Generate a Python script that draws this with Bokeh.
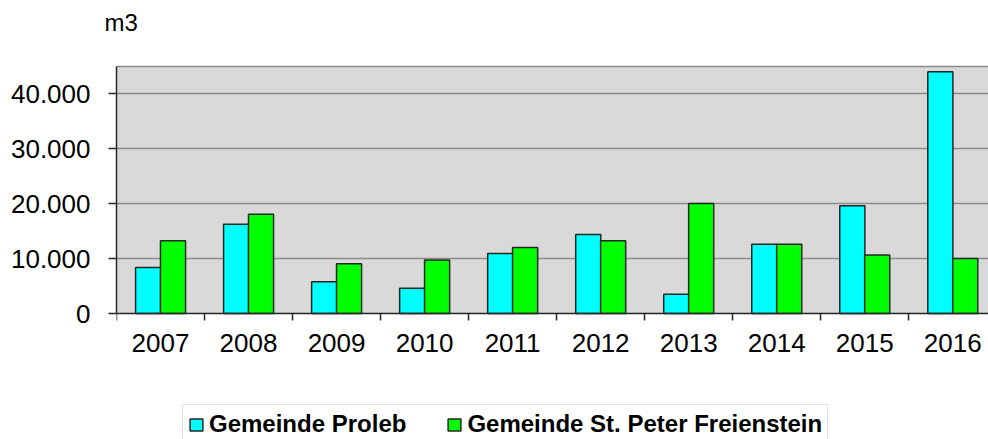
from bokeh.plotting import figure
from bokeh.models import (Range1d, FixedTicker, Legend, LegendItem, ColumnDataSource,
                          LinearAxis, BoxAnnotation)
from bokeh.transform import dodge
from bokeh.embed import file_html
from bokeh.resources import INLINE

years = ["2007", "2008", "2009", "2010", "2011", "2012", "2013", "2014", "2015", "2016"]
proleb = [8400, 16250, 5800, 4600, 10940, 14380, 3500, 12600, 19640, 44050]
st_peter = [13270, 18060, 9060, 9730, 12030, 13270, 20050, 12600, 10670, 10000]
y_ticks = [0, 10000, 20000, 30000, 40000]
y_tick_labels = ["0", "10.000", "20.000", "30.000", "40.000"]
series_names = ["Gemeinde Proleb", "Gemeinde St. Peter Freienstein"]
unit_label = "m3"

centers = [i + 0.5 for i in range(len(years))]
bounds = list(range(len(years) + 1))
Y_MAX = 44990

source = ColumnDataSource(dict(x=centers, proleb=proleb, st_peter=st_peter))

FONT = "Liberation Sans"
DARK = "#262626"

p = figure(width=988, height=439, output_backend="svg", toolbar_location=None,
           x_range=Range1d(0, 9.906), y_range=Range1d(-22950, Y_MAX),
           x_axis_type=None, y_axis_type=None,
           min_border_left=116, min_border_right=0, min_border_top=66, min_border_bottom=0,
           title=unit_label)

p.background_fill_color = "white"
p.border_fill_color = "white"
p.outline_line_color = None

p.title.text_font = FONT
p.title.text_font_size = "24px"
p.title.text_font_style = "normal"
p.title.text_color = "black"
p.title.align = "left"
p.title.offset = -12
p.title.standoff = 10

# grey plot area (from the zero line up)
p.add_layout(BoxAnnotation(bottom=0, fill_color="#d9d9d9", fill_alpha=1,
                           line_color=None, level="underlay"))

# top border of plot area (also spacer between title and plot)
top_axis = LinearAxis(ticker=FixedTicker(ticks=[]), axis_label=" ",
                      axis_label_text_font_size="10px", axis_label_standoff=12,
                      major_label_standoff=0, major_tick_out=0, major_tick_in=0,
                      minor_tick_out=0, minor_tick_in=0,
                      axis_line_color="#8a8a8a", axis_line_width=1.5)
p.add_layout(top_axis, "above")

# y axis
ya = LinearAxis(ticker=FixedTicker(ticks=y_ticks, minor_ticks=[]), bounds=(0, Y_MAX))
ya.major_label_overrides = {t: l for t, l in zip(y_ticks, y_tick_labels)}
ya.major_tick_out = 8
ya.major_tick_in = 0
ya.major_tick_line_color = DARK
ya.major_tick_line_width = 1.5
ya.minor_tick_line_color = None
ya.axis_line_color = DARK
ya.axis_line_width = 1.5
ya.major_label_text_font = FONT
ya.major_label_text_font_size = "26px"
ya.major_label_text_color = "black"
ya.major_label_standoff = 18
p.add_layout(ya, "left")

p.ygrid.grid_line_color = None
p.xgrid.grid_line_color = None
from bokeh.models import Grid
p.add_layout(Grid(dimension=1, ticker=FixedTicker(ticks=y_ticks[1:]),
                  grid_line_color="#8c8c8c", grid_line_width=1.5))

r1 = p.vbar(x=dodge("x", -0.141, range=p.x_range), top="proleb", width=0.285, bottom=0,
            source=source, fill_color="#00ffff", line_color=DARK, line_width=1.5)
r2 = p.vbar(x=dodge("x", 0.142, range=p.x_range), top="st_peter", width=0.285, bottom=0,
            source=source, fill_color="#00ff00", line_color=DARK, line_width=1.5)

# x axis sitting on the zero line
xa = LinearAxis(ticker=FixedTicker(ticks=centers, minor_ticks=bounds), fixed_location=0)
xa.major_label_overrides = {c: y for c, y in zip(centers, years)}
xa.major_tick_out = 0
xa.major_tick_in = 0
xa.minor_tick_out = 7
xa.minor_tick_in = 0
xa.minor_tick_line_color = DARK
xa.minor_tick_line_width = 1.5
xa.axis_line_color = DARK
xa.axis_line_width = 1.5
xa.major_label_text_font = FONT
xa.major_label_text_font_size = "26px"
xa.major_label_text_color = "black"
xa.major_label_standoff = 13
p.add_layout(xa, "below")

legend = Legend(items=[LegendItem(label=series_names[0], renderers=[r1]),
                       LegendItem(label=series_names[1], renderers=[r2])],
                location=(66, -5), orientation="horizontal",
                padding=5, spacing=40, label_standoff=5,
                glyph_width=16, glyph_height=15, margin=0,
                label_text_font=FONT, label_text_font_size="24px",
                label_text_font_style="bold", label_text_color="black",
                border_line_color="#c0c0c0", border_line_width=1.5,
                background_fill_color="white", background_fill_alpha=1)
p.add_layout(legend)

open("out.html", "w").write(file_html(p, INLINE))
